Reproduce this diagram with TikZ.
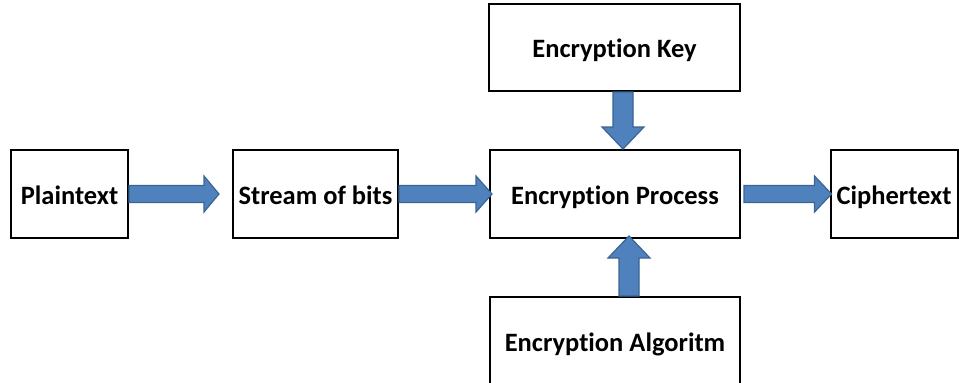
\documentclass[tikz,border=0pt]{standalone}
\usepackage{fontspec}
\setmainfont{Carlito}[Ligatures=NoCommon]
\usetikzlibrary{calc}
\definecolor{arrowfill}{HTML}{4F81BD}
\definecolor{arrowline}{HTML}{3A6494}
\tikzset{
  box/.style={draw=black, line width=2pt, fill=white, inner sep=0pt, align=center,
    text height=24pt, text depth=4pt,
    font=\fontsize{26.5}{30}\selectfont\bfseries},
  blockarrow/.style={fill=arrowfill, draw=arrowline, line width=1.2pt, line join=miter}
}
% horizontal block arrow: #1 start, #2 tip, #3 head length
\newcommand\blockH[3]{%
  \path[blockarrow] let \p1=#1, \p2=#2 in
    (\x1,\y1+8.5pt) -- (\x2-#3,\y1+8.5pt) -- (\x2-#3,\y1+18pt) -- (\x2,\y1)
    -- (\x2-#3,\y1-18pt) -- (\x2-#3,\y1-8.5pt) -- (\x1,\y1-8.5pt) -- cycle;}
% vertical block arrow: #1 start, #2 tip, #3 signed head length (canvas units)
\newcommand\blockV[3]{%
  \path[blockarrow] let \p1=#1, \p2=#2 in
    (\x1-10pt,\y1) -- (\x1-10pt,\y2+#3) -- (\x1-21pt,\y2+#3) -- (\x1,\y2)
    -- (\x1+21pt,\y2+#3) -- (\x1+10pt,\y2+#3) -- (\x1+10pt,\y1) -- cycle;}
\begin{document}
\begin{tikzpicture}[x=1pt,y=-1pt]
\useasboundingbox (0,0) rectangle (959,383);
\clip (0,0) rectangle (959,383);
\node[box, minimum width=117pt, minimum height=88pt] (p) at (69.5,194) {Plaintext};
\node[box, minimum width=165pt, minimum height=88pt] (s) at (315.5,194) {Stream of bits};
\node[box, minimum width=250pt, minimum height=88pt] (e) at (615,194) {Encryption Process};
\node[box, minimum width=251pt, minimum height=87pt] (k) at (614.5,47.5) {Encryption Key};
\node[box, minimum width=250pt, minimum height=88pt] (a) at (615,341) {Encryption Algoritm};
\node[box, minimum width=127pt, minimum height=88pt] (c) at (894,194) {Ciphertext};
\blockH{(p.east)}{($(s.west)+(-13,0)$)}{15pt}
\blockH{(s.east)}{($(e.west)+(3,0)$)}{16pt}
\blockH{($(e.east)+(3,0)$)}{($(c.west)+(2,0)$)}{17pt}
\blockV{($(k.south)+(8.5,0)$)}{(e.north)}{22pt}
\blockV{($(a.north)+(14,0)$)}{($(e.south)+(0,-3)$)}{-22pt}
\end{tikzpicture}
\end{document}
